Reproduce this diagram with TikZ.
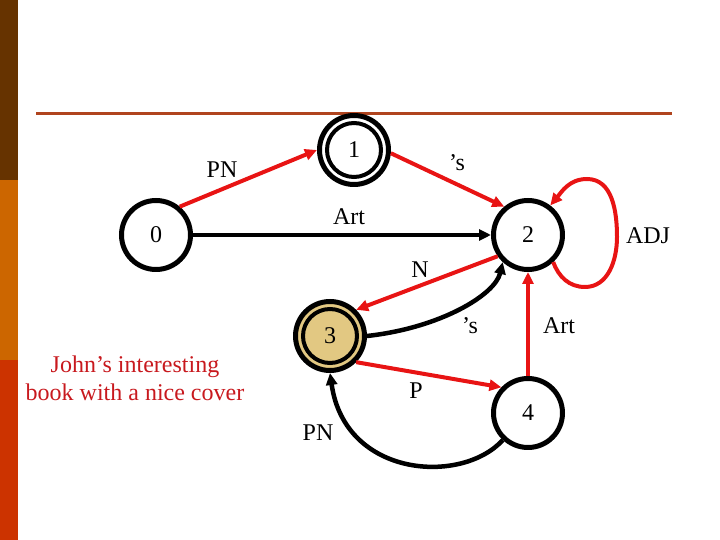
\documentclass[tikz,border=0pt]{standalone}
\usepackage{fontspec}
\setmainfont{Liberation Serif}
\usetikzlibrary{arrows.meta}
\definecolor{barbrown}{HTML}{663300}
\definecolor{barorange}{HTML}{CC6600}
\definecolor{barred}{HTML}{CC3300}
\definecolor{rulecol}{RGB}{176,68,30}
\definecolor{edgered}{RGB}{232,20,20}
\definecolor{tanfill}{RGB}{226,200,130}
\definecolor{textred}{RGB}{200,25,30}
\begin{document}
\begin{tikzpicture}[x=1pt,y=1pt,
  state/.style={circle,draw,fill=white,line width=5pt,minimum size=69pt,inner sep=0pt,font=\fontsize{24}{28}\selectfont},
  lbl/.style={inner sep=0pt,font=\fontsize{24}{28}\selectfont},
  redge/.style={draw=edgered,line width=4pt,-{Triangle[length=12pt,width=11pt]}},
  bedge/.style={draw=black,line width=4.5pt,-{Triangle[length=12pt,width=11pt]}},
]
\useasboundingbox (0,0) rectangle (720,540);
\fill[barbrown] (0,360) rectangle (18,540);
\fill[barorange] (0,180) rectangle (18,360);
\fill[barred] (0,0) rectangle (18,180);
\draw[rulecol,line width=3.5pt] (36,426.5) -- (672,426.5);

\node[state] (n0) at (156,305) {0};
\node[state] (n1) at (354,390) {};
\draw[line width=4pt] (n1.center) circle[radius=27pt];
\node[lbl] (t1) at (n1.center) {1};
\node[state] (n2) at (528,305) {2};
\node[state,fill=tanfill] (n3) at (330,204) {};
\draw[line width=4pt] (n3.center) circle[radius=27pt];
\node[lbl] (t3) at (n3.center) {3};
\node[state] (n4) at (528,127) {4};

\draw[redge] (n0.50) -- (n1.180);
\draw[redge] (n1.-5) -- (n2.130);
\draw[bedge] (n0.east) -- (n2.west);
\draw[redge] (n2.-47) to[out=-70,in=180] (585,253) to[out=0,in=-90] (617,303) to[out=90,in=0] (587,361) to[out=180,in=50] (n2.53);
\draw[redge] (n2.-145) -- (n3.45);
\draw[bedge] (n3.east) .. controls (440,212) and (495,245) .. (n2.-133);
\draw[redge] (n3.-45) -- (n4.136);
\draw[redge] (n4.north) -- (n2.south);
\draw[bedge] (n4.-133) .. controls (462,55) and (345,62) .. (n3.-90);

\node[lbl] (l01) at (222,370) {PN};
\node[lbl] (l12) at (457,377) {’s};
\node[lbl] (l02) at (349,323) {Art};
\node[lbl] (l22) at (648,304) {ADJ};
\node[lbl] (l23) at (420,270) {N};
\node[lbl] (l32) at (470,214) {’s};
\node[lbl] (l42) at (559,214) {Art};
\node[lbl] (l34) at (416,149) {P};
\node[lbl] (l43) at (318,107) {PN};
\node[lbl,text=textred,align=center] (ex) at (135,162) {John’s interesting\\book with a nice cover};
\end{tikzpicture}
\end{document}
